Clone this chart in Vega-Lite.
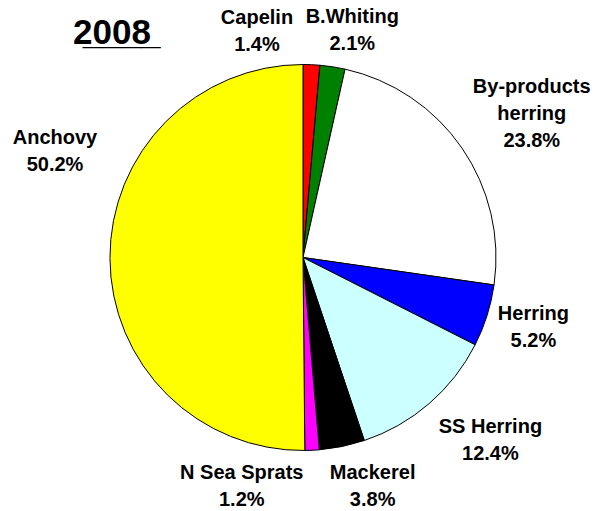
{
  "$schema": "https://vega.github.io/schema/vega-lite/v6.json",
  "width": 606,
  "height": 507,
  "autosize": "none",
  "padding": {"top": 4, "left": 0, "right": 0, "bottom": 0},
  "background": "white",
  "title": {
    "text": "2̲0̲0̲8̲",
    "anchor": "start",
    "frame": "group",
    "orient": "top",
    "offset": -75,
    "dx": 73,
    "baseline": "alphabetic",
    "font": "Liberation Sans",
    "fontSize": 35,
    "fontWeight": "bold",
    "color": "black"
  },
  "data": {
    "values": [
      {"name": "Capelin", "value": 1.4, "k": 1, "label": "Capelin\n1.4%"},
      {"name": "B.Whiting", "value": 2.1, "k": 2, "label": "B.Whiting\n2.1%"},
      {"name": "By-products herring", "value": 23.8, "k": 3, "label": "By-products\nherring\n23.8%"},
      {"name": "Herring", "value": 5.2, "k": 4, "label": "Herring\n5.2%"},
      {"name": "SS Herring", "value": 12.4, "k": 5, "label": "SS Herring\n12.4%"},
      {"name": "Mackerel", "value": 3.8, "k": 6, "label": "Mackerel\n3.8%"},
      {"name": "N Sea Sprats", "value": 1.2, "k": 7, "label": "N Sea Sprats\n1.2%"},
      {"name": "Anchovy", "value": 50.2, "k": 8, "label": "Anchovy\n50.2%"}
    ]
  },
  "encoding": {
    "theta": {"field": "value", "type": "quantitative", "stack": true},
    "order": {"field": "k", "type": "quantitative"}
  },
  "layer": [
    {
      "mark": {"type": "arc", "outerRadius": 193, "stroke": "black", "strokeWidth": 1},
      "encoding": {
        "color": {
          "field": "name",
          "type": "nominal",
          "legend": null,
          "scale": {
            "domain": ["Capelin", "B.Whiting", "By-products herring", "Herring", "SS Herring", "Mackerel", "N Sea Sprats", "Anchovy"],
            "range": ["#FF0000", "#008000", "#FFFFFF", "#0000FF", "#CCFFFF", "#000000", "#FF00FF", "#FFFF00"]
          }
        }
      }
    },
    {
      "mark": {"type": "text", "clip": true, "radius": 250, "dx": -57, "dy": 10},
      "encoding": {"text": {"condition": {"test": "datum.name === 'Capelin'", "field": "label"}, "value": ""}}
    },
    {
      "mark": {"type": "text", "clip": true, "radius": 250, "dx": 11, "dy": 7},
      "encoding": {"text": {"condition": {"test": "datum.name === 'B.Whiting'", "field": "label"}, "value": ""}}
    },
    {
      "mark": {"type": "text", "clip": true, "radius": 250, "dx": 23, "dy": -28},
      "encoding": {"text": {"condition": {"test": "datum.name === 'By-products herring'", "field": "label"}, "value": ""}}
    },
    {
      "mark": {"type": "text", "clip": true, "radius": 250, "dx": -8, "dy": -19},
      "encoding": {"text": {"condition": {"test": "datum.name === 'Herring'", "field": "label"}, "value": ""}}
    },
    {
      "mark": {"type": "text", "clip": true, "radius": 250, "dx": 24, "dy": -20},
      "encoding": {"text": {"condition": {"test": "datum.name === 'SS Herring'", "field": "label"}, "value": ""}}
    },
    {
      "mark": {"type": "text", "clip": true, "radius": 250, "dx": 19, "dy": -29},
      "encoding": {"text": {"condition": {"test": "datum.name === 'Mackerel'", "field": "label"}, "value": ""}}
    },
    {
      "mark": {"type": "text", "clip": true, "radius": 250, "dx": -73, "dy": -34},
      "encoding": {"text": {"condition": {"test": "datum.name === 'N Sea Sprats'", "field": "label"}, "value": ""}}
    },
    {
      "mark": {"type": "text", "clip": true, "radius": 250, "dx": 2, "dy": -121},
      "encoding": {"text": {"condition": {"test": "datum.name === 'Anchovy'", "field": "label"}, "value": ""}}
    }
  ],
  "config": {
    "view": {"stroke": null},
    "text": {
      "font": "Liberation Sans",
      "fontWeight": "bold",
      "fontSize": 20,
      "lineHeight": 27,
      "lineBreak": "\n",
      "align": "center",
      "baseline": "middle",
      "color": "black"
    }
  }
}
